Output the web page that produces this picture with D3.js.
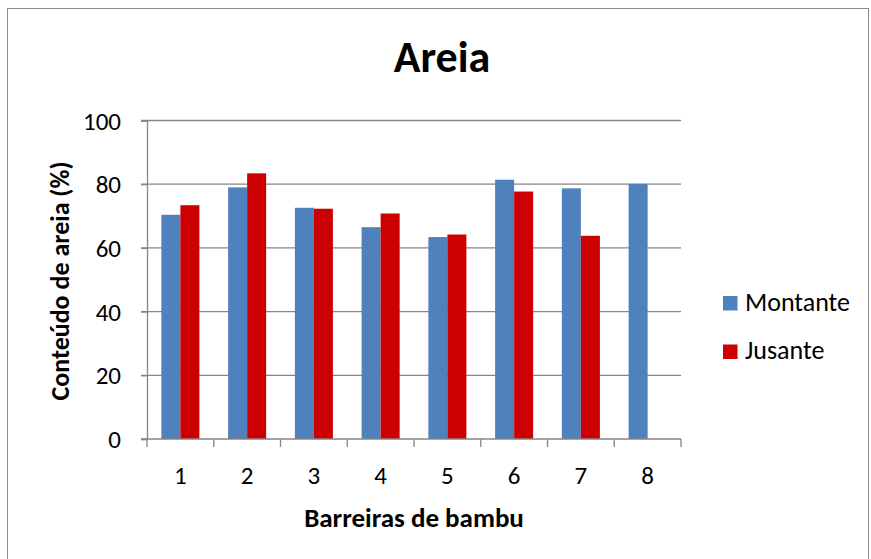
<!DOCTYPE html>
<html>
<head>
<meta charset="utf-8">
<script src="https://cdn.jsdelivr.net/npm/d3@7"></script>
<style>
  html, body { margin: 0; padding: 0; background: #fff; }
  svg { display: block; font-family: Carlito, Calibri, Lato, "Liberation Sans", sans-serif; }
</style>
</head>
<body>
<svg id="chart" width="871" height="559"></svg>
<script>
// Sand content (%) measured upstream and downstream of each bamboo barrier
const categories = ["1", "2", "3", "4", "5", "6", "7", "8"];
const seriesNames = ["Montante", "Jusante"];
const montante = [70.4, 79.0, 72.6, 66.5, 63.4, 81.4, 78.7, 80.1];
const jusante = [73.4, 83.4, 72.3, 70.8, 64.2, 77.7, 63.8, null];
const yTicks = [0, 20, 40, 60, 80, 100];
const colors = ["#4f81bd", "#cc0000"];

const rows = categories.map((c, i) => ({ cat: c, values: [montante[i], jusante[i]] }));

const svg = d3.select("#chart");

// outer chart frame
svg.append("rect")
  .attr("x", 7.5).attr("y", 8.5)
  .attr("width", 861).attr("height", 560)
  .attr("fill", "#fff").attr("stroke", "#8c8c8c").attr("stroke-width", 1);

const plot = { left: 147, right: 681, top: 120.5, bottom: 439 };

const x0 = d3.scaleBand().domain(categories).range([plot.left, plot.right]).padding(0);
const x1 = d3.scaleBand().domain([0, 1]).range([0, x0.bandwidth()])
  .paddingInner(0).paddingOuter(0.755);
const y = d3.scaleLinear().domain([0, 100]).range([plot.bottom, plot.top]);

// horizontal gridlines
svg.append("g")
  .selectAll("line")
  .data(yTicks.filter(t => t > 0))
  .join("line")
  .attr("x1", plot.left - 6).attr("x2", plot.right)
  .attr("y1", d => y(d)).attr("y2", d => y(d))
  .attr("stroke", "#868686").attr("stroke-width", 1.3);

// bars
const groups = svg.append("g")
  .selectAll("g")
  .data(rows)
  .join("g")
  .attr("transform", d => `translate(${x0(d.cat)},0)`);

groups.selectAll("rect")
  .data(d => d.values.map((v, k) => ({ v, k })).filter(e => e.v != null))
  .join("rect")
  .attr("x", d => x1(d.k))
  .attr("width", x1.bandwidth())
  .attr("y", d => y(d.v))
  .attr("height", d => y(0) - y(d.v))
  .attr("fill", d => colors[d.k]);

// y axis
const yAxis = d3.axisLeft(y).tickValues(yTicks).tickSize(6).tickPadding(20).tickFormat(d3.format("d"));
const gy = svg.append("g").attr("transform", `translate(${plot.left},0)`).call(yAxis);
gy.attr("font-size", null).attr("font-family", null);
gy.select(".domain").attr("stroke", "#868686").attr("stroke-width", 1.3);
gy.selectAll(".tick line").attr("stroke", "#868686").attr("stroke-width", 1.3);
gy.selectAll(".tick text").attr("fill", "#000")
  .style("font-size", "25px")
  .attr("dy", "0.34em");

// x axis with ticks at category boundaries
const gx = svg.append("g").attr("transform", `translate(0,${plot.bottom})`);
gx.append("line")
  .attr("x1", plot.left - 6).attr("x2", plot.right)
  .attr("stroke", "#868686").attr("stroke-width", 1.3);
const bounds = categories.map(c => x0(c)).concat([x0(categories[categories.length - 1]) + x0.bandwidth()]);
gx.selectAll("line.tk")
  .data(bounds)
  .join("line").attr("class", "tk")
  .attr("x1", d => d).attr("x2", d => d)
  .attr("y1", 0).attr("y2", 8)
  .attr("stroke", "#868686").attr("stroke-width", 1.3);
gx.selectAll("text")
  .data(categories)
  .join("text")
  .attr("x", d => x0(d) + x0.bandwidth() / 2)
  .attr("y", 45)
  .attr("text-anchor", "middle")
  .style("font-size", "25px")
  .attr("fill", "#000")
  .text(d => d);

// title
svg.append("text")
  .attr("x", 442).attr("y", 72)
  .attr("text-anchor", "middle")
  .attr("font-size", 44).attr("font-weight", "bold")
  .text("Areia");

// axis titles
svg.append("text")
  .attr("x", 414).attr("y", 527)
  .attr("text-anchor", "middle")
  .attr("font-size", 27).attr("font-weight", "bold")
  .text("Barreiras de bambu");

svg.append("text")
  .attr("transform", "translate(69,281) rotate(-90)")
  .attr("text-anchor", "middle")
  .attr("font-size", 26).attr("font-weight", "bold")
  .text("Conteúdo de areia (%)");

// legend
const legend = svg.append("g")
  .selectAll("g")
  .data(seriesNames)
  .join("g")
  .attr("transform", (d, i) => `translate(723,${296 + i * 48.5})`);
legend.append("rect")
  .attr("width", 14.5).attr("height", 14.5)
  .attr("fill", (d, i) => colors[i]);
legend.append("text")
  .attr("x", 22).attr("y", 14.7)
  .attr("font-size", 26)
  .text(d => d);
</script>
</body>
</html>
